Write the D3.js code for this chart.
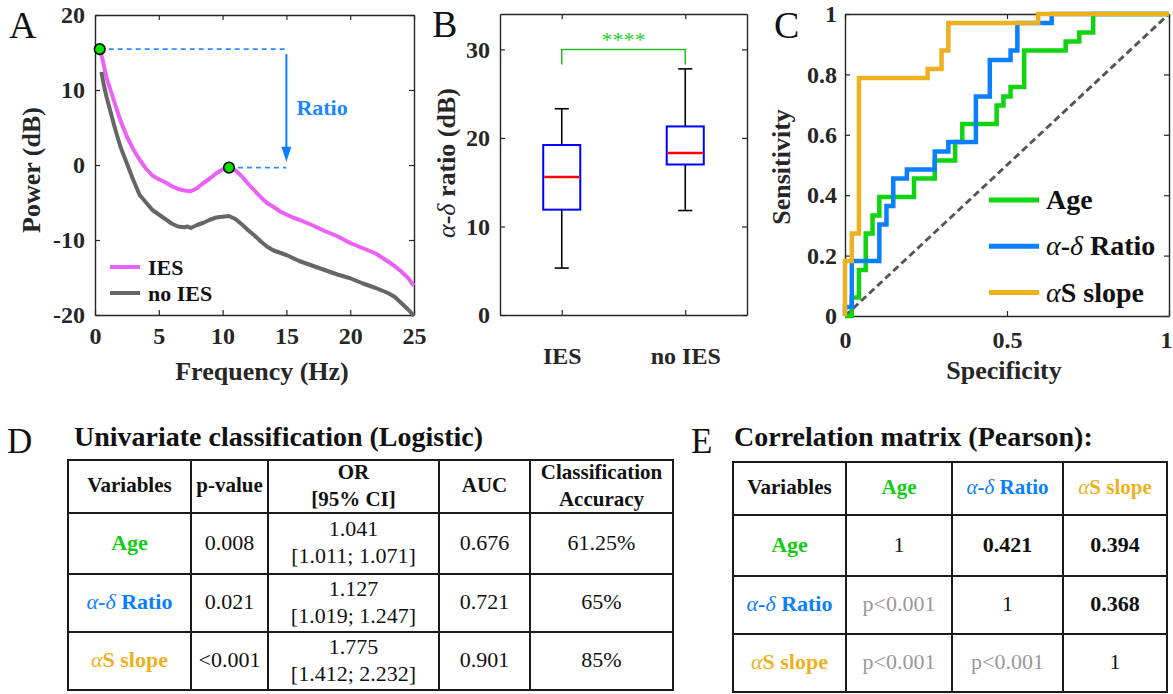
<!DOCTYPE html>
<html>
<head>
<meta charset="utf-8">
<script src="https://cdn.jsdelivr.net/npm/d3@7"></script>
<style>
  html, body { margin: 0; padding: 0; background: #fff; }
  svg { display: block; font-family: "Liberation Serif", "Times New Roman", Times, serif; }
  svg text.b { font-weight: 700; }
  svg tspan.gr { font-style: italic; font-weight: 400; }
</style>
</head>
<body>
<svg id="fig" width="1173" height="694"></svg>
<script>
// ---------- Panel A: power spectra ----------
const freqIES = [0.4, 0.6, 0.8, 1.0, 1.25, 1.5, 1.75, 2.0, 2.5, 3.0, 3.5, 4.0, 4.5, 5.0, 5.5, 6.0, 6.5, 7.0, 7.5, 8.0, 8.5, 9.0, 9.5, 10.0, 10.5, 11.0, 11.5, 12.0, 12.5, 13.0, 13.5, 14.0, 14.5, 15.0, 15.5, 16.0, 17.0, 18.0, 19.0, 20.0, 21.0, 22.0, 23.0, 23.5, 24.0, 24.5, 25.0];
const powerIES = [15.4, 14.0, 12.4, 11.1, 9.8, 8.5, 7.2, 5.9, 3.8, 2.1, 0.7, -0.5, -1.4, -1.9, -2.3, -2.8, -3.2, -3.4, -3.5, -3.1, -2.4, -1.8, -1.1, -0.6, -0.35, -0.7, -1.5, -2.5, -3.4, -4.3, -5.1, -5.6, -6.2, -6.6, -7.0, -7.3, -8.0, -8.8, -9.5, -10.4, -11.1, -11.8, -12.9, -13.5, -14.2, -15.0, -16.1];
const freqNoIES = [0.5, 0.7, 0.9, 1.2, 1.5, 1.75, 2.0, 2.5, 3.0, 3.5, 4.0, 4.5, 5.0, 5.5, 6.0, 6.5, 7.0, 7.25, 7.5, 8.0, 8.5, 9.0, 9.5, 10.0, 10.5, 11.0, 11.5, 12.0, 12.5, 13.0, 13.5, 14.0, 14.5, 15.0, 16.0, 17.0, 18.0, 19.0, 20.0, 21.0, 22.0, 23.0, 23.5, 24.0, 24.5, 25.0];
const powerNoIES = [12.4, 10.6, 9.1, 7.2, 5.3, 3.8, 2.4, 0.2, -2.0, -4.0, -5.0, -6.0, -6.6, -7.2, -7.8, -8.2, -8.3, -8.2, -8.4, -8.0, -7.7, -7.3, -7.0, -6.9, -6.8, -7.2, -7.9, -8.7, -9.4, -10.2, -10.9, -11.4, -11.7, -12.0, -12.8, -13.4, -14.0, -14.6, -15.1, -15.8, -16.4, -17.1, -17.6, -18.4, -19.2, -20.1];
const peakFreq = [0.37, 10.5];
const peakPower = [15.45, -0.35];
const ratioFreq = 15;
const spectrumNames = ["IES", "no IES"];

// ---------- Panel B: alpha-delta ratio boxplot ----------
const boxGroups = [1, 2];
const boxLabels = ["IES", "no IES"];
const boxLow = [5.3, 11.8];
const boxQ1 = [11.9, 17.0];
const boxMedian = [15.6, 18.3];
const boxQ3 = [19.2, 21.3];
const boxHigh = [23.3, 27.8];
const sigText = "****";

// ---------- Panel C: ROC curves (1 - specificity, sensitivity) ----------
const rocAgeX = [0, 0.021, 0.021, 0.043, 0.043, 0.064, 0.064, 0.085, 0.085, 0.106, 0.106, 0.213, 0.213, 0.277, 0.277, 0.340, 0.340, 0.362, 0.362, 0.468, 0.468, 0.489, 0.489, 0.511, 0.511, 0.553, 0.553, 0.681, 0.681, 0.723, 0.723, 0.766, 0.766, 1];
const rocAgeY = [0, 0, 0.061, 0.061, 0.152, 0.152, 0.273, 0.273, 0.333, 0.333, 0.394, 0.394, 0.455, 0.455, 0.515, 0.515, 0.576, 0.576, 0.636, 0.636, 0.697, 0.697, 0.727, 0.727, 0.758, 0.758, 0.879, 0.879, 0.909, 0.909, 0.939, 0.939, 1, 1];
const rocRatioX = [0, 0, 0.021, 0.021, 0.106, 0.106, 0.128, 0.128, 0.149, 0.149, 0.191, 0.191, 0.277, 0.277, 0.319, 0.319, 0.404, 0.404, 0.447, 0.447, 0.511, 0.511, 0.532, 0.532, 0.638, 0.638, 1];
const rocRatioY = [0, 0.030, 0.030, 0.182, 0.182, 0.303, 0.303, 0.364, 0.364, 0.455, 0.455, 0.485, 0.485, 0.545, 0.545, 0.576, 0.576, 0.727, 0.727, 0.848, 0.848, 0.879, 0.879, 0.970, 0.970, 1, 1];
const rocSlopeX = [0, 0, 0.021, 0.021, 0.043, 0.043, 0.255, 0.255, 0.298, 0.298, 0.319, 0.319, 0.596, 0.596, 1];
const rocSlopeY = [0, 0.182, 0.182, 0.273, 0.273, 0.788, 0.788, 0.818, 0.818, 0.879, 0.879, 0.970, 0.970, 1, 1];
const rocNames = ["Age", "α-δ Ratio", "αS slope"];

// ---------- Panel D: univariate logistic classification ----------
const uniHeaders = [["Variables"], ["p-value"], ["OR", "[95% CI]"], ["AUC"], ["Classification", "Accuracy"]];
const uniVariables = ["Age", "α-δ Ratio", "αS slope"];
const uniPValues = ["0.008", "0.021", "<0.001"];
const uniOR = ["1.041", "1.127", "1.775"];
const uniCI = ["[1.011; 1.071]", "[1.019; 1.247]", "[1.412; 2.232]"];
const uniAUC = ["0.676", "0.721", "0.901"];
const uniAccuracy = ["61.25%", "65%", "85%"];

// ---------- Panel E: Pearson correlation matrix ----------
const corrVariables = ["Age", "α-δ Ratio", "αS slope"];
const corrValues = [
  ["1", "0.421", "0.394"],
  ["p<0.001", "1", "0.368"],
  ["p<0.001", "p<0.001", "1"]
];

// ---------- styling ----------
const INK = "#262626";
const varColors = ["#11cc11", "#0a80ff", "#edb120"];
const rocColors = ["#11d411", "#0a80ff", "#edb120"];
const specColors = ["#ea62f5", "#666666"];

const svg = d3.select("#fig");

// writes a label where Greek letters are set in regular italic
function rich(textSel, str) {
  const parts = str.match(/[αδ]|[^αδ]+/g);
  parts.forEach(p => {
    const t = textSel.append("tspan").text(p);
    if (/[αδ]/.test(p)) t.attr("class", "gr");
  });
  return textSel;
}

function label(parent, x, y, size, str, opts = {}) {
  const t = parent.append("text").attr("x", x).attr("y", y).attr("font-size", size)
    .attr("fill", opts.color || "#111");
  if (opts.bold) t.attr("class", "b");
  if (opts.anchor) t.attr("text-anchor", opts.anchor);
  if (opts.transform) t.attr("transform", opts.transform);
  return rich(t, str);
}

// boxed axes with inward ticks on all four sides
function frame(x, y, o) {
  const [x0, x1] = x.range();
  const [y0, y1] = y.range();
  const g = svg.append("g");
  const style = sel => {
    sel.attr("font-family", null).attr("font-size", null);
    sel.selectAll("path.domain").attr("stroke", INK).attr("stroke-width", 1.4);
    sel.selectAll(".tick line").attr("stroke", INK).attr("stroke-width", 1.2);
    sel.selectAll("text").attr("fill", INK).attr("font-size", 24).attr("class", "b");
  };
  g.append("g").attr("transform", `translate(0,${y0})`)
    .call(d3.axisBottom(x).tickValues(o.xTicks).tickFormat(o.xFmt).tickSizeInner(-5).tickSizeOuter(0).tickPadding(o.xPad))
    .call(style);
  g.append("g").attr("transform", `translate(0,${y1})`)
    .call(d3.axisTop(x).tickValues(o.xTicks).tickFormat("").tickSizeInner(-5).tickSizeOuter(0))
    .call(style);
  g.append("g").attr("transform", `translate(${x0},0)`)
    .call(d3.axisLeft(y).tickValues(o.yTicks).tickFormat(o.yFmt).tickSizeInner(-5).tickSizeOuter(0).tickPadding(o.yPad))
    .call(style);
  g.append("g").attr("transform", `translate(${x1},0)`)
    .call(d3.axisRight(y).tickValues(o.yTicks).tickFormat("").tickSizeInner(-5).tickSizeOuter(0))
    .call(style);
  return g;
}

function panelLetter(letter, x, y, size) {
  svg.append("text").attr("x", x).attr("y", y).attr("font-size", size)
    .attr("fill", "#111").text(letter);
}

const plain = d => String(d);

// ================= Panel A =================
{
  const x = d3.scaleLinear().domain([0, 25]).range([95, 414]);
  const y = d3.scaleLinear().domain([-20, 20]).range([315, 15]);
  frame(x, y, { xTicks: [0, 5, 10, 15, 20, 25], yTicks: [-20, -10, 0, 10, 20],
    xFmt: plain, yFmt: plain, xPad: 12, yPad: 10 });

  const line = d3.line().x(d => x(d[0])).y(d => y(d[1]));
  const series = [d3.zip(freqIES, powerIES), d3.zip(freqNoIES, powerNoIES)];
  svg.append("g").selectAll("path").data(series).join("path")
    .attr("d", line).attr("fill", "none")
    .attr("stroke", (d, i) => specColors[i]).attr("stroke-width", 4)
    .attr("stroke-linejoin", "round");

  // ratio annotation: dashed guides from both peaks and the arrow between them
  const annColor = "#2b8fff";
  peakFreq.forEach((f, i) => {
    svg.append("line").attr("x1", x(f)).attr("x2", x(ratioFreq))
      .attr("y1", y(peakPower[i])).attr("y2", y(peakPower[i]))
      .attr("stroke", annColor).attr("stroke-width", 1.6).attr("stroke-dasharray", "5,4");
  });
  const arrowTop = y(peakPower[0]) + 5;
  const arrowTip = y(peakPower[1]) - 6;
  svg.append("line").attr("x1", x(ratioFreq)).attr("x2", x(ratioFreq))
    .attr("y1", arrowTop).attr("y2", arrowTip - 10)
    .attr("stroke", "#0a7cff").attr("stroke-width", 2);
  svg.append("path")
    .attr("d", `M${x(ratioFreq) - 5},${arrowTip - 15} L${x(ratioFreq) + 5},${arrowTip - 15} L${x(ratioFreq)},${arrowTip} Z`)
    .attr("fill", "#0a7cff");
  label(svg, x(ratioFreq) + 10, 115, 22, "Ratio", { bold: true, color: "#1a86ff" });

  svg.append("g").selectAll("circle").data(d3.zip(peakFreq, peakPower)).join("circle")
    .attr("cx", d => x(d[0])).attr("cy", d => y(d[1])).attr("r", 5.3)
    .attr("fill", "#00e000").attr("stroke", "#000").attr("stroke-width", 1.5);

  // legend
  const lg = svg.append("g");
  spectrumNames.forEach((name, i) => {
    const ly = 267 + i * 26;
    lg.append("line").attr("x1", 110).attr("x2", 140).attr("y1", ly).attr("y2", ly)
      .attr("stroke", specColors[i]).attr("stroke-width", 4);
    label(lg, 148, ly + 8, 22, name, { bold: true });
  });

  label(svg, 262, 380, 26, "Frequency (Hz)", { bold: true, anchor: "middle", color: INK });
  label(svg, 0, 0, 26, "Power (dB)", { bold: true, anchor: "middle", color: INK,
    transform: "translate(40,170) rotate(-90)" });
  panelLetter("A", 9, 38, 38);
}

// ================= Panel B =================
{
  const x = d3.scaleLinear().domain([0.5, 2.5]).range([500, 747]);
  const y = d3.scaleLinear().domain([0, 34]).range([315, 14]);
  frame(x, y, { xTicks: boxGroups, yTicks: [0, 10, 20, 30],
    xFmt: (d, i) => boxLabels[i], yFmt: plain, xPad: 32, yPad: 10 });

  const halfBox = 0.15, halfCap = 0.057;
  const g = svg.append("g");
  boxGroups.forEach((c, i) => {
    g.append("line").attr("x1", x(c)).attr("x2", x(c)).attr("y1", y(boxQ3[i])).attr("y2", y(boxHigh[i]))
      .attr("stroke", "#000").attr("stroke-width", 1.6);
    g.append("line").attr("x1", x(c)).attr("x2", x(c)).attr("y1", y(boxLow[i])).attr("y2", y(boxQ1[i]))
      .attr("stroke", "#000").attr("stroke-width", 1.6);
    [boxLow[i], boxHigh[i]].forEach(v => {
      g.append("line").attr("x1", x(c - halfCap)).attr("x2", x(c + halfCap)).attr("y1", y(v)).attr("y2", y(v))
        .attr("stroke", "#000").attr("stroke-width", 1.6);
    });
    g.append("rect").attr("x", x(c - halfBox)).attr("width", x(c + halfBox) - x(c - halfBox))
      .attr("y", y(boxQ3[i])).attr("height", y(boxQ1[i]) - y(boxQ3[i]))
      .attr("fill", "none").attr("stroke", "#0000ff").attr("stroke-width", 2);
    g.append("line").attr("x1", x(c - halfBox) + 1).attr("x2", x(c + halfBox) - 1)
      .attr("y1", y(boxMedian[i])).attr("y2", y(boxMedian[i]))
      .attr("stroke", "#ff0000").attr("stroke-width", 2.5);
  });

  // significance bracket
  g.append("path")
    .attr("d", `M${x(1)},${y(28.3)} V${y(30)} H${x(2)} V${y(28.3)}`)
    .attr("fill", "none").attr("stroke", "#22bb22").attr("stroke-width", 1.5);
  g.append("text").attr("x", (x(1) + x(2)) / 2).attr("y", 47).attr("text-anchor", "middle")
    .attr("font-size", 22).attr("fill", "#2ccc2c").text(sigText);

  label(svg, 0, 0, 26, "α-δ ratio (dB)", { bold: true, anchor: "middle", color: INK,
    transform: "translate(455,163) rotate(-90)" });
  panelLetter("B", 432, 37, 38);
}

// ================= Panel C =================
{
  const x = d3.scaleLinear().domain([0, 1]).range([845, 1169]);
  const y = d3.scaleLinear().domain([0, 1]).range([316, 14]);
  const fg = frame(x, y, { xTicks: [0, 0.5, 1], yTicks: [0, 0.2, 0.4, 0.6, 0.8, 1],
    xFmt: plain, yFmt: plain, xPad: 15, yPad: 8 });
  // keep the last x tick label inside the figure edge
  fg.selectAll("g").filter((d, i) => i === 0).selectAll(".tick text")
    .filter(d => d === 1).attr("dx", -3);

  svg.append("line").attr("x1", x(0)).attr("y1", y(0)).attr("x2", x(1)).attr("y2", y(1))
    .attr("stroke", "#555").attr("stroke-width", 3).attr("stroke-dasharray", "7,4");

  const line = d3.line().x(d => x(d[0])).y(d => y(d[1]));
  const curves = [d3.zip(rocAgeX, rocAgeY), d3.zip(rocRatioX, rocRatioY), d3.zip(rocSlopeX, rocSlopeY)];
  svg.append("g").selectAll("path").data(curves).join("path")
    .attr("d", line).attr("fill", "none")
    .attr("stroke", (d, i) => rocColors[i]).attr("stroke-width", 4.5)
    .attr("stroke-linejoin", "miter");

  const lg = svg.append("g");
  rocNames.forEach((name, i) => {
    const ly = 200 + i * 46.3;
    lg.append("line").attr("x1", 989).attr("x2", 1039).attr("y1", ly).attr("y2", ly)
      .attr("stroke", rocColors[i]).attr("stroke-width", 5);
    label(lg, 1046, ly + 9, 28, name, { bold: true });
  });

  label(svg, 1004, 379, 26, "Specificity", { bold: true, anchor: "middle", color: INK });
  label(svg, 0, 0, 26, "Sensitivity", { bold: true, anchor: "middle", color: INK,
    transform: "translate(790,167) rotate(-90)" });
  panelLetter("C", 774, 38, 38);
}

// ================= Tables =================
function gridLines(cols, rows) {
  const g = svg.append("g").attr("stroke", "#1a1a1a").attr("stroke-width", 2);
  cols.forEach(cx => g.append("line").attr("x1", cx).attr("x2", cx).attr("y1", rows[0] - 1).attr("y2", rows[rows.length - 1] + 1));
  rows.forEach(ry => g.append("line").attr("y1", ry).attr("y2", ry).attr("x1", cols[0] - 1).attr("x2", cols[cols.length - 1] + 1));
}

// one or two centred lines of text inside a cell
function cellText(cols, rows, c, r, lines, attrs) {
  const cx = (cols[c] + cols[c + 1]) / 2;
  const cy = (rows[r] + rows[r + 1]) / 2 - 1;
  const fs = attrs.size || 22;
  lines.forEach((ln, k) => {
    const off = lines.length === 1 ? 0 : (k === 0 ? -13.5 : 13.5);
    label(svg, cx, cy + off + fs * 0.33, fs, ln,
      { bold: attrs.bold, anchor: "middle", color: attrs.color || "#111" });
  });
}

// ----- Panel D -----
{
  const cols = [68, 191, 268, 439, 530, 673];
  const rows = [460, 513, 574, 632, 690];
  label(svg, 74, 446, 28, "Univariate classification (Logistic)", { bold: true });
  panelLetter("D", 7, 453, 35);
  gridLines(cols, rows);
  uniHeaders.forEach((h, c) => cellText(cols, rows, c, 0, h, { bold: true, size: 21 }));
  uniVariables.forEach((v, r) => {
    cellText(cols, rows, 0, r + 1, [v], { bold: true, color: varColors[r] });
    cellText(cols, rows, 1, r + 1, [uniPValues[r]], {});
    cellText(cols, rows, 2, r + 1, [uniOR[r], uniCI[r]], {});
    cellText(cols, rows, 3, r + 1, [uniAUC[r]], {});
    cellText(cols, rows, 4, r + 1, [uniAccuracy[r]], {});
  });
}

// ----- Panel E -----
{
  const cols = [733, 846, 952, 1063, 1167];
  const rows = [462, 515, 576, 634, 692];
  label(svg, 734, 446, 28, "Correlation matrix (Pearson):", { bold: true });
  panelLetter("E", 691, 453, 35);
  gridLines(cols, rows);
  cellText(cols, rows, 0, 0, ["Variables"], { bold: true, size: 21 });
  corrVariables.forEach((v, i) => {
    cellText(cols, rows, i + 1, 0, [v], { bold: true, color: varColors[i], size: 21 });
    cellText(cols, rows, 0, i + 1, [v], { bold: true, color: varColors[i] });
  });
  corrValues.forEach((row, r) => row.forEach((val, c) => {
    const upper = c > r, lower = c < r;
    cellText(cols, rows, c + 1, r + 1, [val],
      { bold: upper, color: lower ? "#999999" : "#111" });
  }));
}
</script>
</body>
</html>
